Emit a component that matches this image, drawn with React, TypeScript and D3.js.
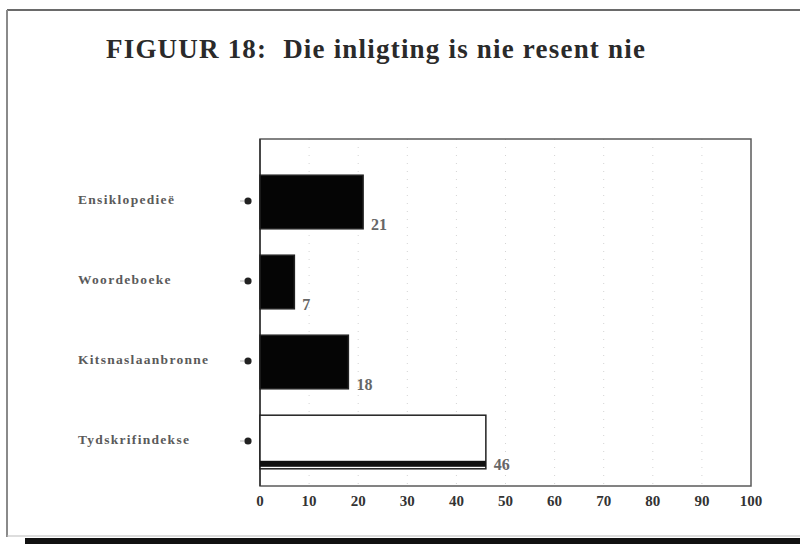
import React from "react";
import * as d3 from "d3";

const title = "FIGUUR 18:  Die inligting is nie resent nie";
const categories = ["Ensiklopedieë", "Woordeboeke", "Kitsnaslaanbronne", "Tydskrifindekse"];
const values = [21, 7, 18, 46];
const barFills = ["#050505", "#050505", "#050505", "#ffffff"];
const xTicks = [0, 10, 20, 30, 40, 50, 60, 70, 80, 90, 100];

const W = 800;
const H = 544;
const plot = { left: 260, right: 751, top: 139, bottom: 486 };

export default function App() {
  const x = d3.scaleLinear().domain([0, 100]).range([plot.left, plot.right]);
  const y = d3
    .scaleBand<string>()
    .domain(categories)
    .range([162, 482])
    .paddingInner(0.33)
    .paddingOuter(0.165);
  const bw = y.bandwidth();
  const serif = "'Liberation Serif', 'DejaVu Serif', serif";

  return (
    <svg
      width={W}
      height={H}
      style={{ position: "absolute", left: 0, top: 0, display: "block", background: "#fff" }}
    >
      <rect x={0} y={0} width={W} height={H} fill="#ffffff" />
      {/* outer frame */}
      <line x1={7} x2={800} y1={10} y2={10} stroke="#6a6a6a" strokeWidth={2} />
      <line x1={7} x2={7} y1={10} y2={537} stroke="#8a8a8a" strokeWidth={2} />
      <line x1={7} x2={800} y1={536} y2={536} stroke="#bbbbbb" strokeWidth={1} />
      <rect x={25} y={538} width={775} height={6} fill="#111" />

      <text x={106} y={58} fontFamily={serif} fontWeight="bold" fontSize={27} letterSpacing={1.2} fill="#2a2a2a" style={{ whiteSpace: "pre" }}>
        {title}
      </text>

      {/* gridlines */}
      {xTicks.slice(1, -1).map((t) => (
        <line key={"g" + t} x1={x(t)} x2={x(t)} y1={plot.top} y2={plot.bottom} stroke="#d4d4d4" strokeWidth={1} strokeDasharray="1 7" />
      ))}

      {/* plot box */}
      <rect x={plot.left} y={plot.top} width={plot.right - plot.left} height={plot.bottom - plot.top} fill="none" stroke="#5a5a5a" strokeWidth={1.5} />
      <line x1={plot.left} x2={plot.left} y1={plot.top} y2={plot.bottom} stroke="#333" strokeWidth={1.5} />

      {/* bars */}
      {categories.map((c, i) => {
        const y0 = y(c)!;
        const x1 = x(values[i]);
        const white = barFills[i] === "#ffffff";
        return (
          <g key={c}>
            <rect x={plot.left} y={y0} width={x1 - plot.left} height={bw} fill={barFills[i]} stroke="#222" strokeWidth={1.5} />
            {white && (
              <rect x={plot.left} y={y0 + bw - 8} width={x1 - plot.left} height={6} fill="#111" />
            )}
            <text x={x1 + 8} y={y0 + bw + 1} fontFamily={serif} fontWeight="bold" fontSize={16} fill="#666">
              {values[i]}
            </text>
            <text x={78} y={y0 + bw / 2 - 1} dominantBaseline="middle" fontFamily={serif} fontWeight="bold" fontSize={13.5} letterSpacing={1.3} fill="#5a5a5a">
              {c}
            </text>
            <circle cx={248} cy={y0 + bw / 2 - 1} r={3.6} fill="#222" />
            <line x1={240} x2={244} y1={y0 + bw / 2 - 1} y2={y0 + bw / 2 - 1} stroke="#bbb" strokeWidth={1} />
          </g>
        );
      })}

      {/* x tick labels */}
      {xTicks.map((t) => (
        <text key={"t" + t} x={x(t)} y={506} textAnchor="middle" fontFamily={serif} fontWeight="bold" fontSize={15} fill="#333">
          {t}
        </text>
      ))}
    </svg>
  );
}
